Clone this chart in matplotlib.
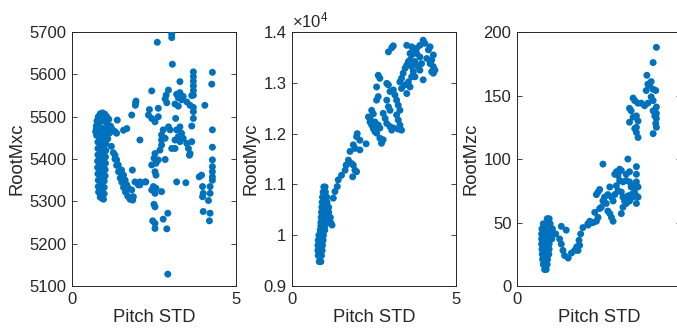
import matplotlib
matplotlib.use("Agg")
import matplotlib.pyplot as plt
from matplotlib.ticker import FuncFormatter

plt.rcParams["font.family"] = ["Liberation Sans", "DejaVu Sans"]
plt.rcParams["mathtext.fontset"] = "custom"
plt.rcParams["mathtext.rm"] = "Liberation Sans"
plt.rcParams["mathtext.it"] = "Liberation Sans"

BLUE = "#0072BD"
DARK = "#262626"

# ---- panel 1: RootMxc vs Pitch STD ----
mxc_x = [
    # dense cluster, upper part
    0.74, 0.72, 0.76, 0.80, 0.86, 0.93, 1.00, 1.06, 1.12,
    0.82, 0.89, 0.96, 1.03, 1.10, 1.17,
    0.74, 0.80, 0.87, 0.94, 1.01, 1.08, 1.15,
    0.75, 0.81, 0.88, 0.95, 1.02, 1.09,
    # dense cluster, lower part
    0.79, 0.85, 0.91, 0.97, 1.03,
    0.79, 0.85, 0.91, 0.97, 1.03,
    0.79, 0.85, 0.91, 0.97, 1.02,
    0.78, 0.85, 0.91, 0.97, 1.02,
    0.78, 0.85, 0.91, 0.97, 1.01,
    0.79, 0.85, 0.91, 0.97, 1.01,
    0.80, 0.86, 0.92, 0.98,
    0.80, 0.86, 0.92, 0.98,
    0.81, 0.87, 0.93, 0.98,
    0.86, 0.92, 0.96,
    # trails
    1.21, 1.31, 1.36, 1.38, 1.57, 1.67, 1.82, 1.93, 1.95, 1.94,
    1.20, 1.26, 1.31, 1.36, 1.42, 1.47, 1.52, 1.57, 1.63, 1.70, 1.77, 1.85,
    1.31, 1.36, 1.41, 1.51, 1.57, 1.62, 1.67, 1.72, 1.82, 1.87,
    1.84, 1.92, 2.07, 2.25, 2.02,
    # scattered right part
    3.04, 3.04, 2.60, 3.06, 3.70, 3.70, 3.70, 3.70, 3.70, 3.70, 4.28, 4.26,
    3.29, 2.43, 2.94, 2.87, 2.84, 2.89,
    3.19, 3.24, 3.29, 3.34, 3.14, 3.39, 3.50, 3.60, 3.65, 3.70, 3.24,
    4.05, 2.36, 2.63, 2.33, 2.43, 2.53, 2.63, 3.70, 3.70, 3.16, 3.65,
    2.94, 2.99, 2.78, 2.73, 2.84, 2.73,
    3.19, 3.29, 3.34, 3.24, 3.29, 3.14,
    3.39, 3.50, 3.55, 3.60, 3.65, 3.58, 3.04, 3.14,
    4.28, 4.28, 4.28, 4.28, 4.28, 4.28, 4.28,
    2.07, 2.73, 2.68, 2.53, 2.50, 2.63, 2.56, 2.43, 2.53, 2.56, 2.84,
    2.07, 2.23, 2.48, 2.43, 2.53, 2.73, 2.56,
    3.19, 3.47, 3.95, 3.88,
    3.98, 4.00, 3.98, 4.21, 4.21, 4.16,
    2.50, 2.53, 2.92, 2.78, 2.46, 2.53, 2.53, 2.89,
    4.00, 4.21, 4.19, 2.92,
]
mxc_y = [
    5478, 5465, 5490, 5500, 5507, 5509, 5506, 5500, 5494,
    5486, 5490, 5492, 5487, 5480, 5478,
    5472, 5470, 5474, 5472, 5470, 5466, 5462,
    5456, 5455, 5457, 5455, 5452, 5448,
    5440, 5442, 5440, 5438, 5436,
    5425, 5427, 5425, 5423, 5420,
    5410, 5412, 5410, 5408, 5405,
    5395, 5397, 5395, 5393, 5390,
    5380, 5382, 5380, 5378, 5375,
    5365, 5367, 5365, 5363, 5360,
    5350, 5352, 5350, 5348,
    5335, 5337, 5335, 5333,
    5322, 5322, 5320, 5318,
    5310, 5307, 5305,
    5472, 5465, 5461, 5492, 5468, 5472, 5504, 5527, 5537, 5532,
    5430, 5415, 5400, 5385, 5370, 5355, 5345, 5333, 5322, 5312, 5305, 5303,
    5409, 5398, 5386, 5374, 5362, 5350, 5339, 5331, 5327, 5311,
    5374, 5346, 5346, 5346, 5339,
    5695, 5687, 5676, 5624, 5606, 5595, 5584, 5573, 5562, 5551, 5605, 5577,
    5583, 5561, 5563, 5551, 5542, 5533,
    5553, 5545, 5557, 5540, 5530, 5548, 5535, 5527, 5550, 5522, 5525,
    5527, 5517, 5520, 5504, 5496, 5488, 5500, 5512, 5496, 5496, 5478,
    5476, 5469, 5469, 5457, 5449, 5445,
    5469, 5476, 5461, 5453, 5441, 5445,
    5449, 5437, 5425, 5413, 5441, 5409, 5425, 5425,
    5469, 5428, 5398, 5382, 5370, 5358, 5350,
    5445, 5433, 5421, 5413, 5402, 5398, 5390, 5386, 5370, 5362, 5399,
    5339, 5346, 5335, 5327, 5319, 5323, 5331,
    5346, 5344, 5362, 5358,
    5335, 5319, 5311, 5335, 5319, 5302,
    5293, 5287, 5272, 5258, 5254, 5248, 5236, 5235,
    5276, 5272, 5254, 5128,
]

# ---- panel 2: RootMyc vs Pitch STD ----
myc_x = [
    # dense column
    0.97, 1.01,
    0.95, 1.02,
    0.93, 1.00, 1.06,
    0.92, 0.99, 1.07,
    0.91, 0.98, 1.06, 1.12,
    0.90, 0.97, 1.04, 1.12,
    0.89, 0.96, 1.03, 1.10, 1.17,
    0.88, 0.95, 1.02, 1.10, 1.18,
    0.88, 1.00, 1.22,
    0.86, 0.93, 1.00,
    0.82, 0.89, 0.96,
    0.80, 0.87, 0.95,
    0.79, 0.86, 0.93,
    0.79, 0.85, 0.92,
    0.80, 0.86, 0.90,
    0.83, 0.88,
    # trail
    1.26, 1.31, 1.38, 1.41, 1.51, 1.62, 1.65, 1.72,
    1.82, 1.87, 1.92, 1.97, 1.85, 1.77, 1.92, 1.87,
    1.97, 1.99, 2.07, 2.26, 2.07,
    # middle cluster
    2.63, 2.68, 2.58, 2.63, 2.58,
    2.33, 2.38, 2.43, 2.48, 2.53, 2.63, 2.68, 2.58, 2.68, 2.73, 2.78,
    2.43, 2.48, 2.53, 2.38,
    2.89, 2.94, 2.99, 2.89, 2.94, 2.99,
    2.78, 2.84, 2.89, 2.99, 3.04, 3.09,
    3.09, 3.14, 3.19, 3.24, 3.29, 3.19, 3.24, 3.29, 3.34, 3.24,
    3.04, 3.09, 2.94,
    3.29, 3.34, 3.39, 3.45, 3.50, 3.55,
    3.34, 3.45, 3.55, 3.60, 3.50,
    3.65, 3.70, 3.65, 3.75,
    # upper cluster
    3.50, 3.65, 3.70, 3.60, 3.80, 3.90, 4.00, 4.05, 4.16, 4.21,
    4.31, 4.26, 4.21, 4.31, 4.36, 4.31, 4.26, 4.11, 3.95, 4.00,
    3.90, 3.80, 3.65, 3.60, 3.70, 3.85, 3.90, 3.75,
]
myc_y = [
    10950, 10950,
    10850, 10850,
    10750, 10750, 10750,
    10650, 10650, 10650,
    10550, 10550, 10550, 10550,
    10450, 10450, 10450, 10450,
    10350, 10350, 10350, 10350, 10350,
    10250, 10250, 10250, 10250, 10250,
    10180, 10180, 10200,
    10100, 10100, 10100,
    10000, 10000, 10000,
    9900, 9900, 9900,
    9800, 9800, 9800,
    9700, 9700, 9700,
    9600, 9600, 9600,
    9480, 9480,
    10730, 10860, 10960, 11090, 11180, 11280, 11380, 11480,
    11410, 11380, 11280, 11250, 11150, 11650, 11710, 11780,
    11940, 12000, 11870, 11800, 11680,
    13150, 13090, 12920, 12730, 12660,
    12330, 12300, 12460, 12390, 12230, 12170, 12110, 12010, 11910, 11810, 11880,
    12170, 12100, 12040, 12230,
    12990, 12960, 12830, 12660, 12530, 12460,
    12400, 12300, 12200, 12140, 12070, 12110,
    12860, 12760, 12660, 12560, 12460, 12370, 12270, 12170, 12070, 12090,
    13690, 13730, 13610,
    13020, 13090, 13190, 13290, 13350, 13420,
    12890, 12960, 13020, 12920, 12790,
    13120, 13220, 13320, 13420,
    13740, 13710, 13610, 13580, 13680, 13740, 13840, 13780, 13650, 13710,
    13550, 13450, 13380, 13320, 13250, 13190, 13220, 13480, 13380, 13060,
    13510, 13580, 13550, 13450, 13380, 13320, 13250, 13120,
]

# ---- panel 3: RootMzc vs Pitch STD ----
mzc_x = [
    # dense cluster
    0.92, 0.98,
    0.80, 0.88, 0.95, 1.01,
    0.76, 0.84, 0.92, 1.00, 1.08,
    0.75, 0.83, 0.91, 0.99, 1.10, 1.18,
    0.75, 0.83, 0.91, 0.99, 1.06,
    0.75, 0.83, 0.91, 0.98,
    0.76, 0.84, 0.92, 0.98,
    0.77, 0.85, 0.92, 0.97,
    0.78, 0.86, 0.93,
    0.80, 0.87, 0.92,
    0.84, 0.89,
    # trail
    1.35, 1.50, 1.30, 1.35, 1.40, 1.45, 1.56, 1.66, 1.76, 1.83,
    1.89, 1.94, 2.01, 2.17, 2.27, 1.81, 1.86, 1.91,
    # middle cluster
    2.62, 2.47, 2.42, 2.52,
    2.37, 2.42, 2.47, 2.52, 2.57,
    2.22, 2.32, 2.16,
    2.62, 2.67, 2.72, 2.77, 2.83, 2.88, 2.93,
    2.83, 2.77, 2.88, 2.93, 2.98,
    2.98, 3.03, 3.08, 3.13, 3.18, 3.13, 3.23,
    3.03, 3.08, 3.18, 3.23, 3.28, 3.33, 3.38, 3.23, 3.18,
    3.38,
    3.33, 3.43, 3.48, 3.58, 3.64, 3.69, 3.58, 3.48, 3.64, 3.69,
    3.64, 3.64, 3.33, 3.43, 3.64, 3.43, 3.53,
    # upper cluster
    4.25, 4.15, 3.96, 3.54, 3.59, 3.43, 3.48,
    3.69, 3.79, 3.89, 3.99,
    3.94, 3.99, 4.04, 4.09, 4.15, 4.23,
    4.09, 4.15, 4.25, 4.25, 4.25, 4.23, 4.25, 4.20, 4.15, 4.15,
    3.43, 3.54, 3.64, 3.69,
    3.59, 3.64, 3.69, 3.64,
]
mzc_y = [
    53, 53,
    49, 49, 49, 49,
    45, 45, 45, 45, 45,
    41, 41, 41, 41, 41, 41,
    37, 37, 37, 37, 37,
    33, 33, 33, 33,
    29, 29, 29, 29,
    25, 25, 25, 25,
    21, 21, 21,
    17, 17, 17,
    13, 13,
    47, 44, 37, 33, 28, 24, 22, 26, 28, 31,
    36, 41, 46, 48, 50, 30, 28, 32,
    96, 74, 72, 76,
    58, 51, 54, 61, 62,
    51, 50, 49,
    67, 70, 65, 59, 57, 54, 51,
    78, 72, 70, 67, 72,
    88, 90, 87, 92, 91, 83, 82,
    79, 75, 74, 70, 67, 65, 71, 62, 57,
    100,
    83, 82, 78, 79, 82, 78, 74, 72, 71, 70,
    94, 88, 88, 90, 65, 67, 70,
    188, 176, 166, 148, 146, 140, 138,
    144, 144, 142, 144,
    154, 159, 158, 161, 155, 154,
    149, 146, 141, 136, 132, 128, 125, 134, 138, 120,
    129, 133, 134, 130,
    124, 121, 117, 125,
]

panels = [
    (mxc_x, mxc_y, "RootMxc", (5100, 5700), [5100, 5200, 5300, 5400, 5500, 5600, 5700]),
    (myc_x, myc_y, "RootMyc", (9000, 14000), [9000, 10000, 11000, 12000, 13000, 14000]),
    (mzc_x, mzc_y, "RootMzc", (0, 200), [0, 50, 100, 150, 200]),
]

fig = plt.figure(figsize=(6.77, 3.31), dpi=100)
lefts = [0.1064, 0.4313, 0.7637]
for i, (xs, ys, label, ylim, yticks) in enumerate(panels):
    ax = fig.add_axes([lefts[i], 0.136, 0.2422, 0.767])
    ax.scatter(xs, ys, s=25, color=BLUE, edgecolors="none", zorder=3)
    ax.set_xlim(0, 5)
    ax.set_ylim(*ylim)
    ax.set_xticks([0, 5])
    ax.set_yticks(yticks)
    ax.set_xlabel("Pitch STD", fontsize=13.2, color=DARK, labelpad=2)
    ax.set_ylabel(label, fontsize=13.2, color=DARK, labelpad=3)
    ax.tick_params(direction="in", length=3.5, width=0.6, top=True, right=True,
                   labelsize=12, colors=DARK, pad=4)
    for sp in ax.spines.values():
        sp.set_color(DARK)
        sp.set_linewidth(0.7)
    if label == "RootMyc":
        ax.yaxis.set_major_formatter(FuncFormatter(lambda v, p: f"{v / 1e4:g}"))
        ax.text(0.0, 1.005, r"$\times10^{4}$", transform=ax.transAxes,
                fontsize=12, color=DARK, ha="left", va="bottom")

fig.savefig("out.png", dpi=100)
